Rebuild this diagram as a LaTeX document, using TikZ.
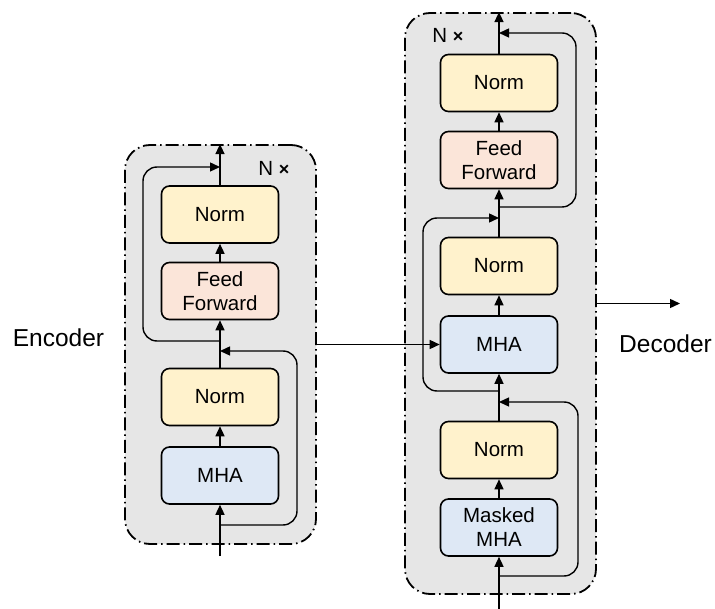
\documentclass[tikz,border=0pt]{standalone}
\usepackage{fontspec}
\setmainfont{Liberation Sans}
\usetikzlibrary{arrows.meta}
\definecolor{normfill}{HTML}{FFF2CC}
\definecolor{fffill}{HTML}{FBE5D9}
\definecolor{mhafill}{HTML}{DEE8F5}
\definecolor{boxfill}{HTML}{E6E6E6}
\tikzset{
  blk/.style={draw=black, line width=1.6pt, rounded corners=8pt, minimum width=117pt, minimum height=57pt, align=center, font=\fontsize{20.5}{24}\selectfont, inner sep=0pt},
  normblk/.style={blk, fill=normfill},
  ffblk/.style={blk, fill=fffill},
  mhablk/.style={blk, fill=mhafill},
  container/.style={draw=black, fill=boxfill, line width=1.8pt, rounded corners=25pt, dash pattern=on 13pt off 4pt on 1.5pt off 4pt, inner sep=0pt},
  conn/.style={draw=black, line width=1.4pt, -{Triangle[length=10pt,width=9pt]}},
  skip/.style={conn, rounded corners=14pt},
  sidelabel/.style={font=\fontsize{24.5}{28}\selectfont, inner sep=0pt},
  nlabel/.style={font=\fontsize{20.5}{24}\selectfont, inner sep=0pt}
}
\begin{document}
\begin{tikzpicture}[x=1pt,y=-1pt]
\useasboundingbox (0,0) rectangle (715,609);
% containers
\node[container, minimum width=191pt, minimum height=399pt] (encbox) at (220.5,344.5) {};
\node[container, minimum width=191pt, minimum height=581pt] (decbox) at (500.5,303.5) {};
% encoder blocks
\node[normblk] (enorm2) at (220,214.5) {Norm};
\node[ffblk] (eff) at (220,291) {Feed\\Forward};
\node[normblk] (enorm1) at (220,397) {Norm};
\node[mhablk] (emha) at (220,475.5) {MHA};
% decoder blocks
\node[normblk] (dnorm3) at (499,83) {Norm};
\node[ffblk] (dff) at (499,160) {Feed\\Forward};
\node[normblk] (dnorm2) at (499,266) {Norm};
\node[mhablk] (dmha) at (499,344.5) {MHA};
\node[normblk] (dnorm1) at (499,450) {Norm};
\node[mhablk] (dmmha) at (499,527.5) {Masked\\MHA};
% labels
\node[sidelabel] (enclabel) at (58.5,338) {Encoder};
\node[sidelabel] (declabel) at (665.5,344) {Decoder};
\node[nlabel] (encn) at (274,168) {N \textbf{\fontsize{18}{20}\selectfont ×}};
\node[nlabel] (decn) at (448,35) {N \textbf{\fontsize{18}{20}\selectfont ×}};
% coordinates
\coordinate (ein) at (220,556);
\coordinate (din) at (499,609);
\coordinate (dout) at (680,303.5);
\coordinate (es1a) at (220,525);
\coordinate (es1b) at (220,351);
\coordinate (es2a) at (220,341);
\coordinate (es2b) at (220,167);
\coordinate (ds1a) at (499,576);
\coordinate (ds1b) at (499,402);
\coordinate (ds2a) at (499,391);
\coordinate (ds2b) at (499,218);
\coordinate (ds3a) at (499,207);
\coordinate (ds3b) at (499,33);
% encoder main path
\draw[conn] (ein) -- (emha);
\draw[conn] (emha) -- (enorm1);
\draw[conn] (enorm1) -- (eff);
\draw[conn] (eff) -- (enorm2);
\draw[conn] (enorm2.north) -- (enorm2.north |- encbox.north);
% encoder skips
\draw[skip] (es1a) -- (297,525) -- (297,351) -- (es1b);
\draw[skip] (es2a) -- (143,341) -- (143,167) -- (es2b);
% encoder to decoder
\draw[conn] (encbox.east) -- (dmha.west);
% decoder main path
\draw[conn] (din) -- (dmmha);
\draw[conn] (dmmha) -- (dnorm1);
\draw[conn] (dnorm1) -- (dmha);
\draw[conn] (dmha) -- (dnorm2);
\draw[conn] (dnorm2) -- (dff);
\draw[conn] (dff) -- (dnorm3);
\draw[conn] (dnorm3.north) -- (dnorm3.north |- decbox.north);
% decoder skips
\draw[skip] (ds1a) -- (578,576) -- (578,402) -- (ds1b);
\draw[skip] (ds2a) -- (423,391) -- (423,218) -- (ds2b);
\draw[skip] (ds3a) -- (576,207) -- (576,33) -- (ds3b);
% output
\draw[conn] (decbox.east) -- (dout);
\end{tikzpicture}
\end{document}
